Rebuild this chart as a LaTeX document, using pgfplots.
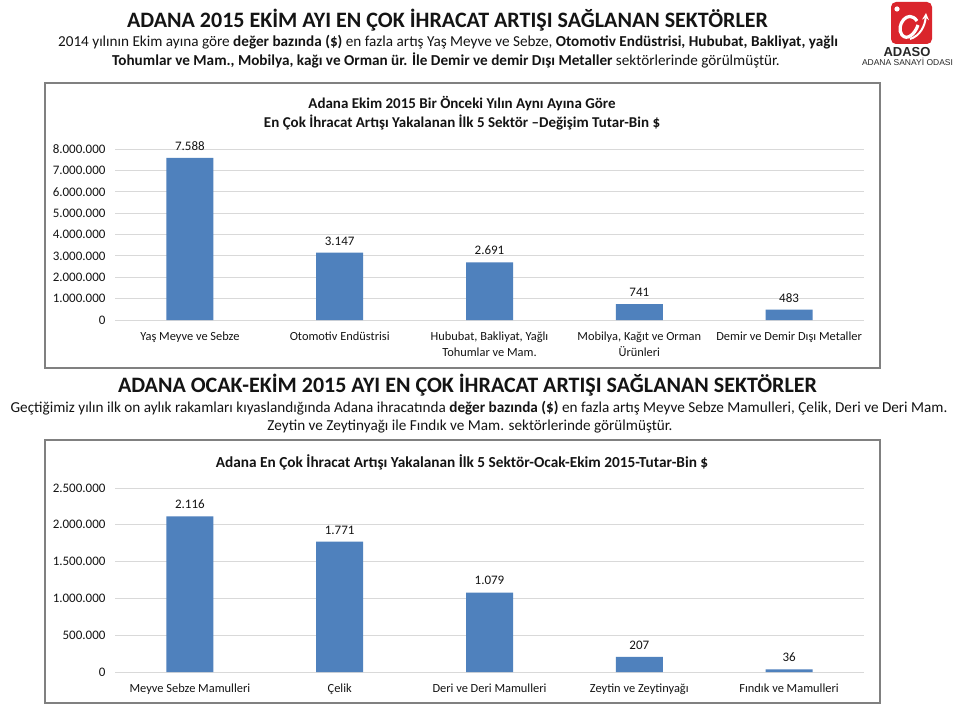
\documentclass[border=0pt]{standalone}
\usepackage{fontspec}
\setmainfont{Carlito}
\newfontfamily\arialf{Liberation Sans}
\usepackage{pgfplots}
\pgfplotsset{compat=1.18}
\definecolor{barblue}{RGB}{79,129,189}
\definecolor{gridgray}{RGB}{217,217,217}
\definecolor{framegray}{RGB}{128,128,128}
\definecolor{logored}{RGB}{218,37,44}
\definecolor{txt}{RGB}{20,20,20}
\pgfplotsset{
  mybars/.style={
    scale only axis, width=749pt, xmin=-0.5, xmax=4.5, ymin=0,
    anchor=south west,
    ybar, bar width=47pt,
    axis line style={draw=none}, tick style={draw=none},
    ymajorgrids, grid style={gridgray, line width=0.8pt},
    xtick={0,1,2,3,4},
    scaled y ticks=false,
    /pgf/number format/fixed,
    /pgf/number format/precision=0,
    /pgf/number format/1000 sep={.},
    /pgf/number format/assume math mode=true,
    ticklabel style={text=txt},
    yticklabel style={font=\fontsize{13}{16}\selectfont},
    xticklabel style={align=center, font=\fontsize{12.4}{16}\selectfont},
    yticklabel shift=6pt,
    xticklabel shift=4.5pt,
    nodes near coords,
    nodes near coords style={font=\fontsize{13}{14}\selectfont, text=txt, yshift=4pt},
  }
}
\begin{document}
\begin{tikzpicture}
\fill[white] (0pt,0pt) rectangle (959pt,-709pt);
\useasboundingbox (0pt,0pt) rectangle (959pt,-709pt);

% Logo
\fill[logored, rounded corners=5pt] (891pt,-2pt) rectangle (932pt,-44pt);
\draw[white, line width=3.2pt] (917pt,-21pt) .. controls (908pt,-8pt) and (895pt,-26pt) .. (902pt,-35pt) .. controls (907pt,-41pt) and (915pt,-34pt) .. (918pt,-25pt);
\draw[white, line width=2pt, -stealth] (910pt,-39pt) .. controls (920pt,-36pt) and (925pt,-26pt) .. (926pt,-13pt);
\fill[white] (897pt,-9pt) circle (2.6pt);
\node[font=\arialf\bfseries\fontsize{13}{14}\selectfont, text=black!85] at (907pt,-52pt) {ADASO};
\node[font=\arialf\fontsize{8.5}{10}\selectfont, text=black!85] at (907.5pt,-62pt) {ADANA SANAYİ ODASI};

% Header text
\node[font=\bfseries\fontsize{22}{26}\selectfont, text=txt] at (447.5pt,-20pt) {ADANA 2015 EKİM AYI EN ÇOK İHRACAT ARTIŞI SAĞLANAN SEKTÖRLER};
\node[font=\fontsize{15.2}{18}\selectfont, text=txt] at (448pt,-42pt) {2014 yılının Ekim ayına göre \textbf{değer bazında (\$)} en fazla artış Yaş Meyve ve Sebze, \textbf{Otomotiv Endüstrisi, Hububat, Bakliyat, yağlı}};
\node[font=\fontsize{15.2}{18}\selectfont, text=txt] at (446pt,-60pt) {\textbf{Tohumlar ve Mam., Mobilya, kağı ve Orman ür. İle Demir ve demir Dışı Metaller} sektörlerinde görülmüştür.};

% Frames
\draw[framegray, line width=1.7pt] (45pt,-83pt) rectangle (880pt,-368pt);
\draw[framegray, line width=1.7pt] (45pt,-440pt) rectangle (880pt,-703pt);

% Top chart title
\node[font=\bfseries\fontsize{15}{19}\selectfont, text=txt, align=center] at (462pt,-113.5pt) {Adana Ekim 2015 Bir Önceki Yılın Aynı Ayına Göre\\En Çok İhracat Artışı Yakalanan İlk 5 Sektör –Değişim Tutar-Bin \$};

\begin{axis}[mybars, at={(115pt,-320pt)}, height=171pt, ymax=8000000,
  ytick={0,1000000,2000000,3000000,4000000,5000000,6000000,7000000,8000000},
  xticklabels={{Yaş Meyve ve Sebze},{Otomotiv Endüstrisi},{Hububat, Bakliyat, Yağlı\\Tohumlar ve Mam.},{Mobilya, Kağıt ve Orman\\Ürünleri},{Demir ve Demir Dışı Metaller}}]
\addplot[fill=barblue, draw=none, point meta=explicit symbolic] coordinates {
(0,7588000) [7.588]
(1,3147000) [3.147]
(2,2691000) [2.691]
(3,741000) [741]
(4,483000) [483]
};
\end{axis}

% Middle text
\node[font=\bfseries\fontsize{22}{26}\selectfont, text=txt] at (467.5pt,-385pt) {ADANA OCAK-EKİM 2015 AYI EN ÇOK İHRACAT ARTIŞI SAĞLANAN SEKTÖRLER};
\node[font=\fontsize{15.2}{18}\selectfont, text=txt, inner sep=0pt] at (479pt,-408pt) {Geçtiğimiz yılın ilk on aylık rakamları kıyaslandığında Adana ihracatında \textbf{değer bazında (\$)} en fazla artış Meyve Sebze Mamulleri, Çelik, Deri ve Deri Mam.};
\node[font=\fontsize{15.2}{18}\selectfont, text=txt] at (470pt,-427pt) {Zeytin ve Zeytinyağı ile Fındık ve Mam. sektörlerinde görülmüştür.};

% Bottom chart title
\node[font=\bfseries\fontsize{15.3}{19}\selectfont, text=txt] at (462pt,-462pt) {Adana En Çok İhracat Artışı Yakalanan İlk 5 Sektör-Ocak-Ekim 2015-Tutar-Bin \$};

\begin{axis}[mybars, at={(115pt,-672pt)}, height=184pt, ymax=2500000,
  ytick={0,500000,1000000,1500000,2000000,2500000},
  xticklabels={{Meyve Sebze Mamulleri},{Çelik},{Deri ve Deri Mamulleri},{Zeytin ve Zeytinyağı},{Fındık ve Mamulleri}}]
\addplot[fill=barblue, draw=none, point meta=explicit symbolic] coordinates {
(0,2116000) [2.116]
(1,1771000) [1.771]
(2,1079000) [1.079]
(3,207000) [207]
(4,36000) [36]
};
\end{axis}
\end{tikzpicture}
\end{document}
